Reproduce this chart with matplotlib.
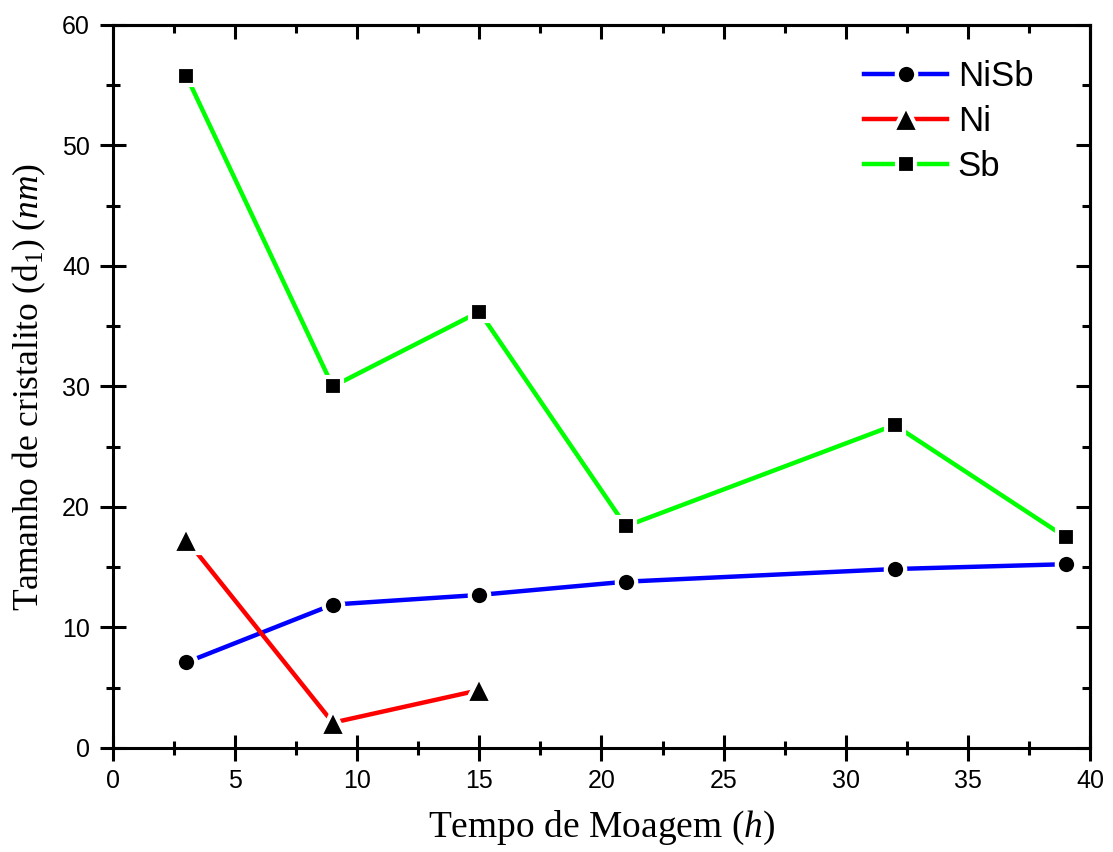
import matplotlib
matplotlib.use("Agg")
import matplotlib.pyplot as plt

# data
tempo = [3, 9, 15, 21, 32, 39]
nisb = [7.1, 11.9, 12.7, 13.8, 14.85, 15.25]
tempo_ni = [3, 9, 15]
ni = [17.3, 2.1, 4.8]
sb = [55.8, 30.0, 36.2, 18.4, 26.8, 17.5]

plt.rcParams["font.family"] = ["Liberation Sans", "DejaVu Sans"]
plt.rcParams["mathtext.fontset"] = "custom"
plt.rcParams["mathtext.rm"] = "Liberation Serif"
plt.rcParams["mathtext.it"] = "Liberation Serif:italic"

fig = plt.figure(figsize=(11.13, 8.52), dpi=100)
ax = fig.add_axes([0.1015, 0.1221, 0.8778, 0.8486])

halo = dict(markeredgecolor="white", markerfacecolor="black", markeredgewidth=3, lw=3.2)
ax.plot(tempo, nisb, color="#0000ff", marker="o", markersize=14, label="NiSb", **halo)
ax.plot(tempo_ni, ni, color="#ff0000", marker="^", markersize=19, label="Ni", **halo)
ax.plot(tempo, sb, color="#00ff00", marker="s", markersize=12.5, label="Sb", **halo)

ax.set_xlim(0, 40)
ax.set_ylim(0, 60)
ax.set_xticks(range(0, 41, 5))
ax.set_yticks(range(0, 61, 10))
ax.set_xticks([x + 2.5 for x in range(0, 40, 5)], minor=True)
ax.set_yticks([y + 5 for y in range(0, 60, 10)], minor=True)
ax.set_xticklabels([str(v) for v in range(0, 41, 5)], fontsize=18)
ax.set_yticklabels([str(v) for v in range(0, 61, 10)], fontsize=18)
for s in ax.spines.values():
    s.set_linewidth(2.2)
ax.tick_params(which="major", direction="inout", length=19, width=2.2)
ax.tick_params(axis="x", which="major", pad=6)
ax.tick_params(axis="y", which="major", pad=7)
ax.tick_params(which="minor", direction="inout", length=10, width=2.2)

top = ax.secondary_xaxis("top")
top.set_xticks(range(0, 41, 5))
top.set_xticks([x + 2.5 for x in range(0, 40, 5)], minor=True)
right = ax.secondary_yaxis("right")
right.set_yticks(range(0, 61, 10))
right.set_yticks([y + 5 for y in range(0, 60, 10)], minor=True)
for sec in (top, right):
    sec.tick_params(which="major", direction="in", length=10, width=2.2, labelleft=False,
                    labelright=False, labeltop=False, labelbottom=False)
    sec.tick_params(which="minor", direction="in", length=6, width=2.2)
    for s in sec.spines.values():
        s.set_linewidth(2.2)

ax.set_xlabel("Tempo de Moagem ($\\mathit{h}$)", family="Liberation Serif", fontsize=27, labelpad=11)
ax.set_ylabel("Tamanho de cristalito (d$_1$) ($\\mathit{nm}$)", family="Liberation Serif", fontsize=25.5,
              labelpad=10)

ax.legend(loc="upper right", bbox_to_anchor=(0.967, 0.985), frameon=False, fontsize=25,
          handlelength=2.4, handletextpad=0.3, labelspacing=0.35, borderaxespad=0.3)

fig.savefig("out.png", dpi=100)
